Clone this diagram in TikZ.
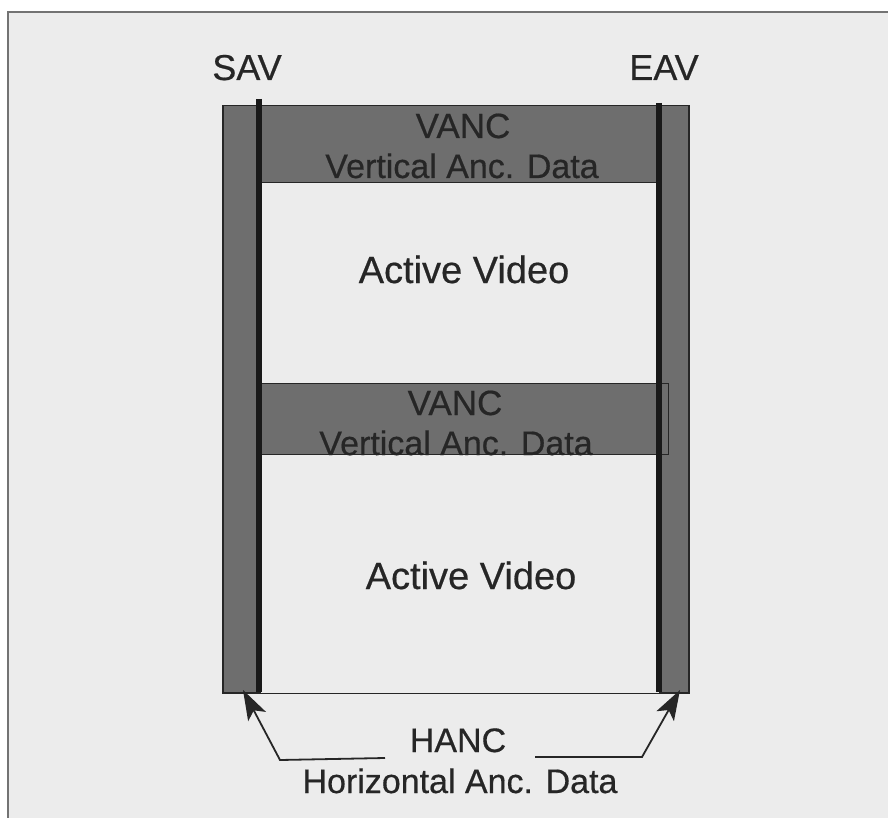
\documentclass[tikz,border=0pt]{standalone}
\usepackage{fontspec}
\setmainfont{Liberation Sans}[FakeBold=0.5]
\usetikzlibrary{arrows.meta}

\definecolor{paper}{HTML}{ECECEC}
\definecolor{bandgray}{HTML}{6E6E6E}
\definecolor{inkdark}{HTML}{262626}

\begin{document}
\begin{tikzpicture}[x=1pt,y=-1pt,
    band/.style={draw=inkdark, line width=1.5pt, fill=bandgray, inner sep=0pt, anchor=north west},
    syncline/.style={line width=6.5pt, draw=black!90},
    lbl/.style={text=inkdark, anchor=base, inner sep=0pt},
    ptr/.style={line width=1.8pt, draw=inkdark, -{Stealth[length=30pt,width=20pt,inset=7pt]}}]
    \useasboundingbox (0,0) rectangle (888,818);
    \fill[white] (0,0) rectangle (888,818);
    \fill[paper] (8,12) rectangle (888,818);
    \draw[line width=2pt,black!55] (8,818) -- (8,12) -- (888,12);
    % horizontal blanking strips
    \node[band, minimum width=37, minimum height=587] (hleft) at (222,105) {};
    \node[band, minimum width=29, minimum height=587] (hright) at (659,105) {};
    % vertical blanking bands
    \node[band, minimum width=400, minimum height=77] (vtop) at (259,105) {};
    \node[band, minimum width=409, minimum height=71, line width=1pt] (vmid) at (259,383) {};
    % SAV / EAV timing lines
    \draw[syncline] (259,99) -- (259,692);
    \draw[syncline] (659,103) -- (659,692);
    \draw[line width=1.8pt,inkdark] (hleft.south west) -- (hright.south east);
    % labels
    \node[lbl, font=\fontsize{36}{40}\selectfont] (sav) at (247,80) {SAV};
    \node[lbl, font=\fontsize{36}{40}\selectfont] (eav) at (664,80) {EAV};
    \node[lbl, font=\fontsize{35}{40}\selectfont] (vanca) at (463,138) {VANC};
    \node[lbl, font=\fontsize{34}{40}\selectfont] (vdataa) at (462,178) {Vertical Anc. Data};
    \node[lbl, font=\fontsize{38}{44}\selectfont] (acta) at (464,283) {Active Video};
    \node[lbl, font=\fontsize{35}{40}\selectfont] (vancb) at (455,415) {VANC};
    \node[lbl, font=\fontsize{34}{40}\selectfont] (vdatab) at (456,455) {Vertical Anc. Data};
    \node[lbl, font=\fontsize{38}{44}\selectfont] (actb) at (471,589) {Active Video};
    \node[lbl, font=\fontsize{34}{40}\selectfont] (hanc) at (458,752) {HANC};
    \node[lbl, font=\fontsize{34}{40}\selectfont] (hdata) at (460,793) {Horizontal Anc. Data};
    % pointers to the HANC strips
    \coordinate (ltip) at (243,690);
    \coordinate (lbend) at (280,760);
    \coordinate (lstart) at (385,758);
    \coordinate (rtip) at (680,690);
    \coordinate (rbend) at (642,757);
    \coordinate (rstart) at (535,757);
    \draw[ptr] (lstart) -- (lbend) -- (ltip);
    \draw[ptr] (rstart) -- (rbend) -- (rtip);
\end{tikzpicture}
\end{document}
